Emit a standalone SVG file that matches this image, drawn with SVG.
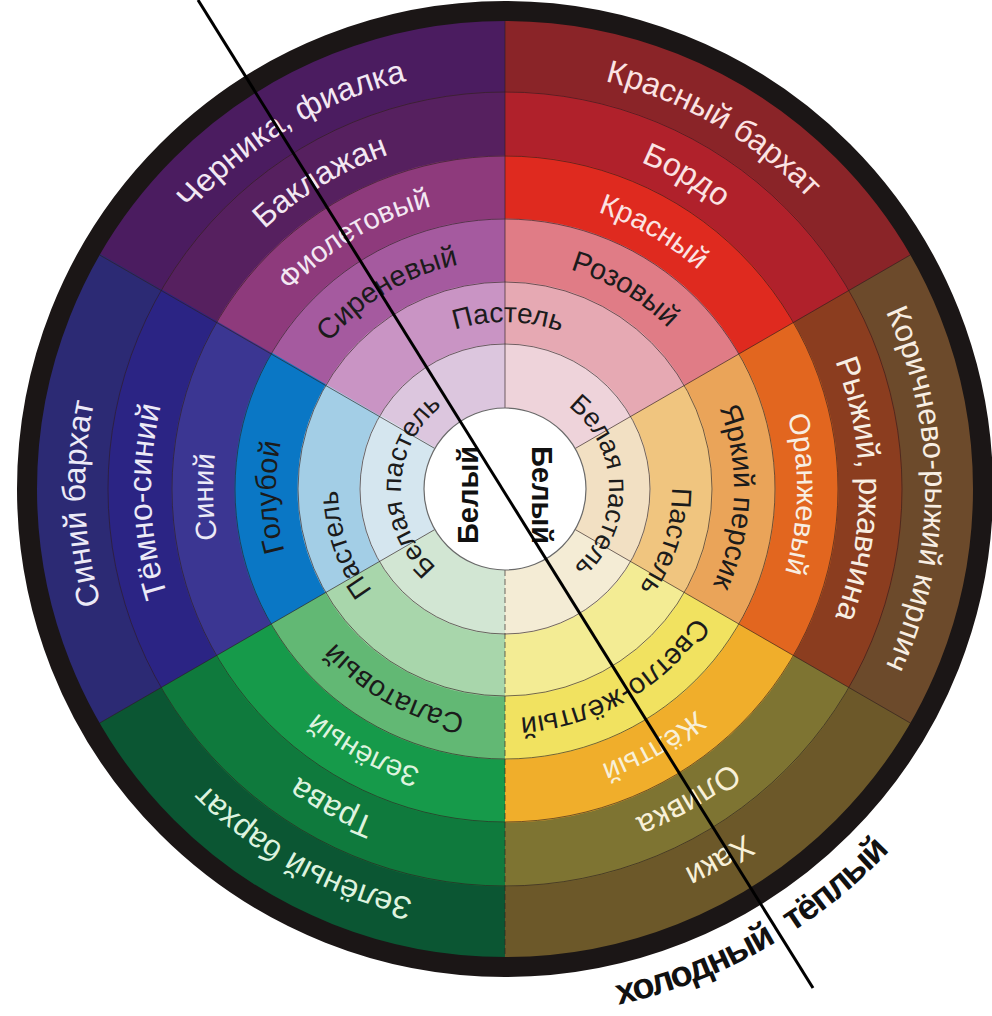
<svg xmlns="http://www.w3.org/2000/svg" width="992" height="1016" viewBox="0 0 992 1016">
<defs>
<style>
.s{fill:none}
.a1{stroke-width:65;stroke-dasharray:119.3 3000}
.a2{stroke-width:63;stroke-dasharray:185.3 3000}
.a3{stroke-width:64;stroke-dasharray:250.8 3000}
.a4{stroke-width:64;stroke-dasharray:316.7 3000}
.a5{stroke-width:65;stroke-dasharray:383.2 3000}
.a6{stroke-width:74;stroke-dasharray:454.4 3000}
.ln{fill:none;stroke:#2e1e1e;stroke-opacity:.65;stroke-width:1}
text{font-family:"Liberation Sans",Arial,sans-serif;text-anchor:middle}
.t6{font-size:32px}
.t5{font-size:32px}
.t4{font-size:29px}
.t3{font-size:29px}
.t2{font-size:28px}
.t1{font-size:27px}
.bw{font-size:29px;font-weight:bold;fill:#111}
.cw{font-size:36px;font-weight:bold;fill:#111;letter-spacing:-1.5px}
.dk{fill:#1b1b1b}
.wp{fill:#f3e8f3}
.wr{fill:#fbe3e3}
.wb{fill:#f8eee2}
.wy{fill:#f8f0d8}
.wg{fill:#def3df}
.wu{fill:#eceaf7}
</style>
<path id="p420" d="M-420 0A420 420 0 0 1 420 0"/>
<path id="p354" d="M-354 0A354 354 0 0 1 354 0"/>
<path id="p292" d="M-292 0A292 292 0 0 1 292 0"/>
<path id="p229" d="M-229 0A229 229 0 0 1 229 0"/>
<path id="p167" d="M-167 0A167 167 0 0 1 167 0"/>
<path id="p104" d="M-104 0A104 104 0 0 1 104 0"/>
<path id="pb527" d="M-528 0A528 528 0 0 0 528 0"/>
</defs>
<rect width="992" height="1016" fill="#fff"/>

<g id="wheel">
<g id="sector-purple" transform="rotate(210 505 489)">
<circle class="s a6" cx="505" cy="489" r="433" stroke="#4b1c60"/>
<circle class="s a5" cx="505" cy="489" r="365" stroke="#56205f"/>
<circle class="s a4" cx="505" cy="489" r="301.5" stroke="#8e3a7c"/>
<circle class="s a3" cx="505" cy="489" r="238.5" stroke="#a55a9f"/>
<circle class="s a2" cx="505" cy="489" r="176" stroke="#c994c4"/>
<circle class="s a1" cx="505" cy="489" r="113" stroke="#dcc6de"/>
</g>
<g id="sector-red" transform="rotate(-90 505 489)">
<circle class="s a6" cx="505" cy="489" r="433" stroke="#8a2428"/>
<circle class="s a5" cx="505" cy="489" r="365" stroke="#b0212b"/>
<circle class="s a4" cx="505" cy="489" r="301.5" stroke="#df2a1f"/>
<circle class="s a3" cx="505" cy="489" r="238.5" stroke="#e07c86"/>
<circle class="s a2" cx="505" cy="489" r="176" stroke="#e6a9b3"/>
<circle class="s a1" cx="505" cy="489" r="113" stroke="#eed3da"/>
</g>
<g id="sector-brown" transform="rotate(-30 505 489)">
<circle class="s a6" cx="505" cy="489" r="433" stroke="#6c4a2b"/>
<circle class="s a5" cx="505" cy="489" r="365" stroke="#8b3d1f"/>
<circle class="s a4" cx="505" cy="489" r="301.5" stroke="#e2661f"/>
<circle class="s a3" cx="505" cy="489" r="238.5" stroke="#eaa459"/>
<circle class="s a2" cx="505" cy="489" r="176" stroke="#f0c57f"/>
<circle class="s a1" cx="505" cy="489" r="113" stroke="#f2e0c3"/>
</g>
<g id="sector-yellow" transform="rotate(30 505 489)">
<circle class="s a6" cx="505" cy="489" r="433" stroke="#6c5829"/>
<circle class="s a5" cx="505" cy="489" r="365" stroke="#7e7432"/>
<circle class="s a4" cx="505" cy="489" r="301.5" stroke="#f0ae2b"/>
<circle class="s a3" cx="505" cy="489" r="238.5" stroke="#f1e260"/>
<circle class="s a2" cx="505" cy="489" r="176" stroke="#f3ec94"/>
<circle class="s a1" cx="505" cy="489" r="113" stroke="#f4ecd5"/>
</g>
<g id="sector-green" transform="rotate(90 505 489)">
<circle class="s a6" cx="505" cy="489" r="433" stroke="#0b5633"/>
<circle class="s a5" cx="505" cy="489" r="365" stroke="#0f7a3d"/>
<circle class="s a4" cx="505" cy="489" r="301.5" stroke="#169a4a"/>
<circle class="s a3" cx="505" cy="489" r="238.5" stroke="#62b874"/>
<circle class="s a2" cx="505" cy="489" r="176" stroke="#a8d6ab"/>
<circle class="s a1" cx="505" cy="489" r="113" stroke="#d2e6d3"/>
</g>
<g id="sector-blue" transform="rotate(150 505 489)">
<circle class="s a6" cx="505" cy="489" r="433" stroke="#2c2a74"/>
<circle class="s a5" cx="505" cy="489" r="365" stroke="#2b2484"/>
<circle class="s a4" cx="505" cy="489" r="301.5" stroke="#3b3692"/>
<circle class="s a3" cx="505" cy="489" r="238.5" stroke="#0a77c5"/>
<circle class="s a2" cx="505" cy="489" r="176" stroke="#a3cee6"/>
<circle class="s a1" cx="505" cy="489" r="113" stroke="#d5e6ef"/>
</g>
<g id="ring-lines">
<circle class="ln" cx="505" cy="489" r="145"/>
<circle class="ln" cx="505" cy="489" r="207"/>
<circle class="ln" cx="505" cy="489" r="270"/>
<circle class="ln" cx="505" cy="489" r="333"/>
<circle class="ln" cx="505" cy="489" r="397"/>
<path class="ln" d="M505 408V21M575.15 448.5L910.29 255M575.15 529.5L910.29 723M434.85 529.5L99.71 723M434.85 448.5L99.71 255"/>
<path class="ln" d="M505 570V957" stroke-dasharray="6 3"/>
</g>
<circle id="center-white" cx="505" cy="489" r="81" fill="#fff" stroke="#6a6a6a" stroke-width="1.2"/>
<circle id="black-rim" cx="505" cy="489" r="478" fill="none" stroke="#1b1616" stroke-width="20"/>
</g>

<g id="labels">
<text class="t6 wp" transform="translate(505 489) rotate(329)"><textPath href="#p420" startOffset="50%">Черника, фиалка</textPath></text>
<text class="t6 wr" transform="translate(505 489) rotate(30)"><textPath href="#p420" startOffset="50%">Красный бархат</textPath></text>
<text class="t6 wb" style="font-size:31px" transform="translate(505 489) rotate(90)"><textPath href="#p420" startOffset="50%">Коричнево-рыжий кирпич</textPath></text>
<text class="t6 wy" transform="translate(505 489) rotate(150)"><textPath href="#p420" startOffset="50%">Хаки</textPath></text>
<text class="t6 wg" transform="translate(505 489) rotate(209)"><textPath href="#p420" startOffset="50%">Зелёный бархат</textPath></text>
<text class="t6 wu" transform="translate(505 489) rotate(268)"><textPath href="#p420" startOffset="50%">Синий бархат</textPath></text>

<text class="t5 wp" transform="translate(505 489) rotate(329)"><textPath href="#p354" startOffset="50%">Баклажан</textPath></text>
<text class="t5 wr" transform="translate(505 489) rotate(30)"><textPath href="#p354" startOffset="50%">Бордо</textPath></text>
<text class="t5 wb" transform="translate(505 489) rotate(90)"><textPath href="#p354" startOffset="50%">Рыжий, ржавчина</textPath></text>
<text class="t5 wy" transform="translate(505 489) rotate(149.5)"><textPath href="#p354" startOffset="50%">Оливка</textPath></text>
<text class="t5 wg" transform="translate(505 489) rotate(208.5)"><textPath href="#p354" startOffset="50%">Трава</textPath></text>
<text class="t5 wu" transform="translate(505 489) rotate(268)"><textPath href="#p354" startOffset="50%">Тёмно-синий</textPath></text>

<text class="t4 wp" transform="translate(505 489) rotate(329)"><textPath href="#p292" startOffset="50%">Фиолетовый</textPath></text>
<text class="t4 wr" transform="translate(505 489) rotate(30)"><textPath href="#p292" startOffset="50%">Красный</textPath></text>
<text class="t4 wb" transform="translate(505 489) rotate(91)"><textPath href="#p292" startOffset="50%">Оранжевый</textPath></text>
<text class="t4 wy" transform="translate(505 489) rotate(150)"><textPath href="#p292" startOffset="50%">Жёлтый</textPath></text>
<text class="t4 wg" transform="translate(505 489) rotate(208.4)"><textPath href="#p292" startOffset="50%">Зелёный</textPath></text>
<text class="t4 wu" transform="translate(505 489) rotate(268.5)"><textPath href="#p292" startOffset="50%">Синий</textPath></text>

<text class="t3 dk" transform="translate(505 489) rotate(329)"><textPath href="#p229" startOffset="50%">Сиреневый</textPath></text>
<text class="t3 dk" transform="translate(505 489) rotate(31)"><textPath href="#p229" startOffset="50%">Розовый</textPath></text>
<text class="t3 dk" transform="translate(505 489) rotate(92)"><textPath href="#p229" startOffset="50%">Яркий персик</textPath></text>
<text class="t3 dk" transform="translate(505 489) rotate(150)"><textPath href="#p229" startOffset="50%">Светло-жёлтый</textPath></text>
<text class="t3 dk" transform="translate(505 489) rotate(209)"><textPath href="#p229" startOffset="50%">Салатовый</textPath></text>
<text class="t3 dk" transform="translate(505 489) rotate(268)"><textPath href="#p229" startOffset="50%">Голубой</textPath></text>

<text class="t2 dk" transform="translate(505 489) rotate(1)"><textPath href="#p167" startOffset="50%">Пастель</textPath></text>
<text class="t2 dk" transform="translate(505 489) rotate(108)"><textPath href="#p167" startOffset="50%">Пастель</textPath></text>
<text class="t2 dk" transform="translate(505 489) rotate(251)"><textPath href="#p167" startOffset="50%">Пастель</textPath></text>

<text class="t1 dk" transform="translate(505 489) rotate(88)"><textPath href="#p104" startOffset="50%">Белая пастель</textPath></text>
<text class="t1 dk" transform="translate(505 489) rotate(272)"><textPath href="#p104" startOffset="50%">Белая пастель</textPath></text>

<text class="bw" transform="translate(478 495) rotate(-90)">Белый</text>
<text class="bw" transform="translate(532 495) rotate(90)">Белый</text>

<text class="cw" transform="translate(505 489) rotate(-21.6)"><textPath href="#pb527" startOffset="50%">холодный</textPath></text>
<text class="cw" transform="translate(505 489) rotate(-39.8)"><textPath href="#pb527" startOffset="50%">тёплый</textPath></text>
</g>

<g id="connectors">
<line x1="198" y1="0" x2="813" y2="988" stroke="#000" stroke-width="3"/>
</g>
</svg>
